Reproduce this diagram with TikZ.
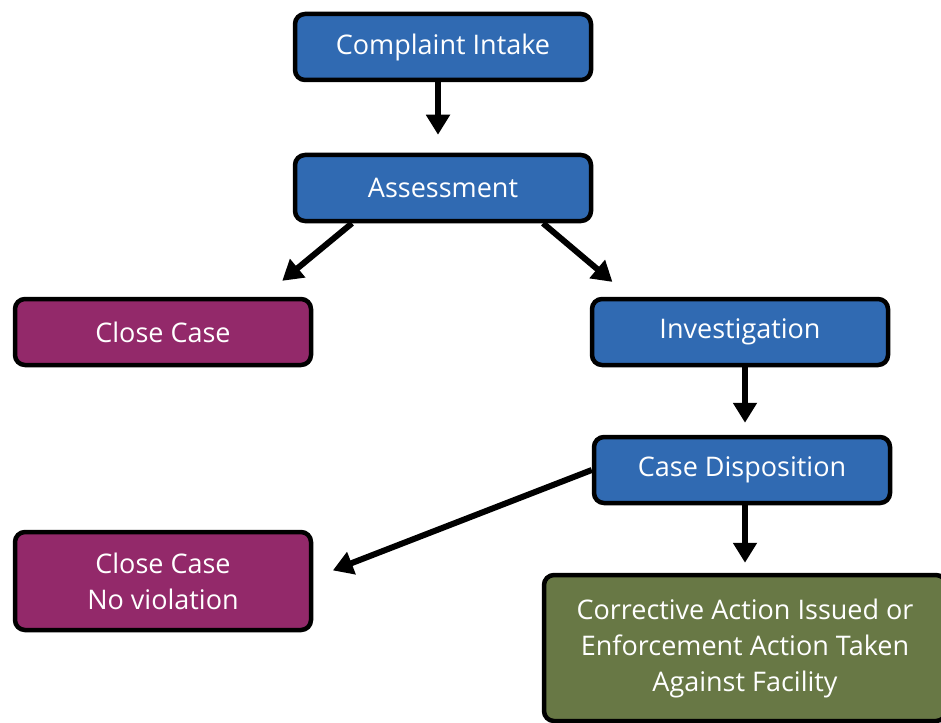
\documentclass[tikz,border=0pt]{standalone}
\usepackage{fontspec}
\setmainfont{Open Sans}
\usetikzlibrary{arrows.meta,positioning}
\definecolor{flowblue}{HTML}{306AB2}
\definecolor{closeplum}{HTML}{93296A}
\definecolor{actgreen}{HTML}{687845}

\begin{document}
\begin{tikzpicture}[x=1pt, y=-1pt,
  box/.style={draw=black, line width=4.5pt, rounded corners=10pt,
    fill=flowblue, text=white, align=center, inner sep=0pt,
    minimum width=296pt, minimum height=66pt,
    font=\fontsize{27}{36}\selectfont},
  closebox/.style={box, fill=closeplum},
  actbox/.style={box, fill=actgreen, minimum width=402pt, minimum height=146pt},
  arr/.style={-{Triangle[length=20pt, width=23pt]}, line width=6pt}
]
\useasboundingbox (0,0) rectangle (941,722);
\node[box] (intake) at (443,47) {Complaint Intake};
\node[box] (assess) at (443,188) {Assessment};
\node[closebox] (close) at (163,332) {Close Case};
\node[box] (invest) at (740,332) {Investigation};
\node[box] (dispo) at (742,470) {Case Disposition};
\node[closebox, minimum height=98pt] (noviol) at (163,581) {Close Case\\No violation};
\node[actbox] (action) at (745,648) {Corrective Action Issued or\\Enforcement Action Taken\\Against Facility};
\draw[arr, shorten >=18pt] ([xshift=-5pt]intake.south) -- ([xshift=-5pt]assess.north);
\draw[arr, shorten >=25pt] ([xshift=-91pt]assess.south) -- ([xshift=100pt]close.north);
\draw[arr, shorten >=23pt] ([xshift=100pt]assess.south) -- ([xshift=-110pt]invest.north);
\draw[arr, shorten >=12pt] ([xshift=5pt]invest.south) -- ([xshift=3pt]dispo.north);
\draw[arr, shorten >=21pt] (dispo.west) -- ([yshift=3pt]noviol.east);
\draw[arr, shorten >=10pt] ([xshift=3pt]dispo.south) -- (action.north);
\end{tikzpicture}
\end{document}
